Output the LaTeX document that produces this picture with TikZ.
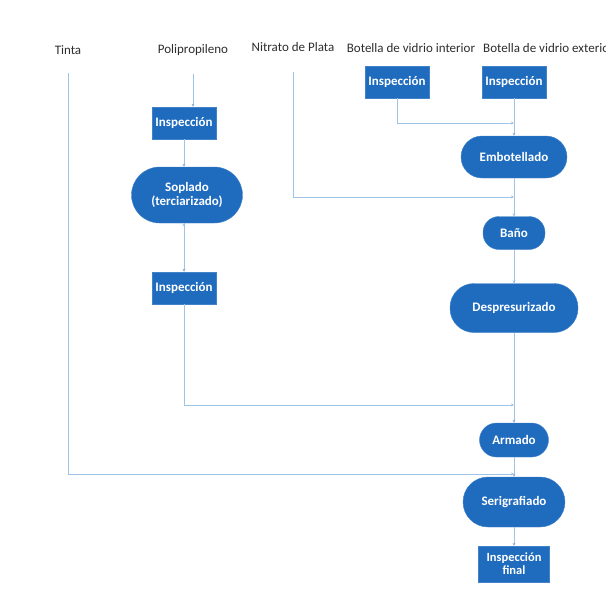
\documentclass[tikz,border=0pt]{standalone}
\usepackage{fontspec}
\setmainfont{Carlito}
\usetikzlibrary{arrows.meta}
\definecolor{boxblue}{RGB}{31,108,190}
\definecolor{lineblue}{RGB}{160,196,232}
\definecolor{labelgray}{RGB}{45,45,45}

\begin{document}
\begin{tikzpicture}[x=1pt,y=-1pt]
          \tikzstyle{label}=[text=labelgray,font=\fontsize{13}{15}\selectfont,inner sep=2pt]
          \tikzstyle{box}=[rectangle,fill=boxblue,draw=boxblue!85!white,text=white,font=\bfseries\fontsize{13}{14}\selectfont,minimum width=64pt,minimum height=32pt,inner sep=1pt,align=center]
          \tikzstyle{proc}=[box,rounded corners=#1]
          \tikzstyle{link}=[draw=lineblue,line width=0.8pt,-{Stealth[length=3pt,width=3pt]}]

          \useasboundingbox (0,0) rectangle (606,600);
          \clip (0,0) rectangle (606,600);

          % inputs
          \node[label](tinta) at (68,50){Tinta};
          \node[label](polip) at (193,50){Polipropileno};
          \node[label](nitrato) at (293,47){Nitrato de Plata};
          \node[label](botint) at (411,48){Botella de vidrio interior};
          \node[label,anchor=west](botext) at (481,48){Botella de vidrio exterior};

          % left branch
          \node[box](inspA) at (184,123){Inspección};
          \node[proc=28pt,minimum width=111pt,minimum height=56pt](soplado) at (187,195){Soplado\\(terciarizado)};
          \node[box](inspB) at (184,288){Inspección};

          % main line
          \node[box](inspC) at (397,82){Inspección};
          \node[box](inspD) at (514,82){Inspección};
          \node[proc=21pt,minimum width=106pt,minimum height=42pt](embot) at (514,157){Embotellado};
          \node[proc=16pt,minimum width=62pt,minimum height=33pt](bano) at (514,233){Baño};
          \node[proc=24pt,minimum width=128pt,minimum height=49pt](despres) at (514,308){Despresurizado};
          \node[proc=17pt,minimum width=69pt,minimum height=34pt](armado) at (514,440){Armado};
          \node[proc=25pt,minimum width=102pt,minimum height=50pt](serig) at (514,502){Serigrafiado};
          \node[box,minimum width=71pt,minimum height=36pt,font=\bfseries\fontsize{12.5}{13}\selectfont](inspfin) at (514,564){Inspección\\final};

          \coordinate (m1) at (514,123);
          \coordinate (m2) at (514,197);
          \coordinate (m3) at (514,405);
          \coordinate (m4) at (514,474);

          \path[link]
            (polip.south) edge[shorten <=16pt] (polip.south |- inspA.north)
            (inspA) edge (inspA |- soplado.north)
            (inspA |- soplado.south) edge (inspB)
            (inspD) edge (embot)
            (embot) edge (bano)
            (bano) edge (despres)
            (despres) edge (armado)
            (armado) edge (serig)
            (serig) edge (inspfin);

          \draw[link] (inspC) |- (m1);
          \draw[link,shorten <=18pt] (nitrato.south) |- (m2);
          \draw[link] (inspB) |- (m3);
          \draw[link,shorten <=16pt] (tinta.south) |- (m4);
        \end{tikzpicture}
\end{document}
